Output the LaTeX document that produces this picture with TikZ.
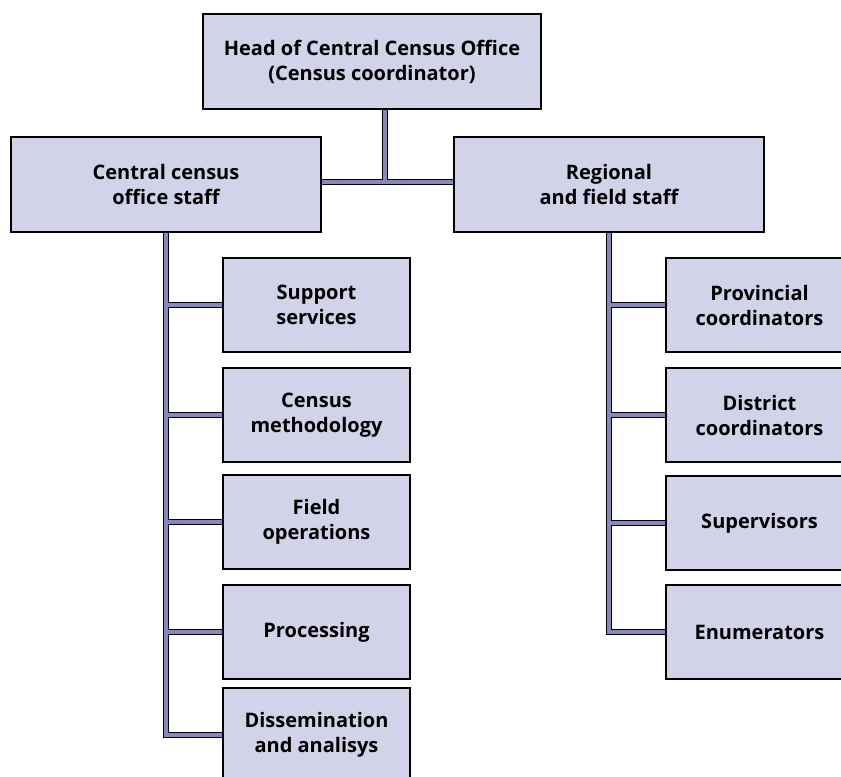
\documentclass[tikz,border=0pt]{standalone}
\usepackage{fontspec}
\setmainfont{Open Sans}
\usetikzlibrary{backgrounds}
\definecolor{boxfill}{RGB}{210,210,233}
\definecolor{pipefill}{RGB}{136,136,192}
\tikzset{
        box/.style={align=center, inner sep=0pt, draw=black, line width=1.5pt, fill=boxfill,
                font=\bfseries\fontsize{15}{18.75}\selectfont},
        % Head of office
        box_top/.style={box, minimum width=253.5pt, minimum height=71.25pt},
        % Staff groups
        box_staff/.style={box, minimum width=233pt, minimum height=71.25pt},
        % Units under a staff group
        box_unit/.style={box, minimum width=140.25pt, minimum height=70.5pt},
        % Connecting pipes
        pipe/.style={line cap=butt, line join=miter}
}
\begin{document}
\begin{tikzpicture}[x=0.75pt, y=-0.75pt]
    \useasboundingbox (0,0) rectangle (841,776);
    \clip (0,0) rectangle (841,776);
    \node[box_top] (head) at (372,61.5) {Head of Central Census Office\\(Census coordinator)};
    \node[box_staff] (central) at (166,184.5) {Central census\\office staff};
    \node[box_staff] (regional) at (609,184.5) {Regional\\and field staff};
    % central office units
    \node[box_unit] (support) at (316.5,305) {Support\\services};
    \node[box_unit] (method) at (316.5,415) {Census\\methodology};
    \node[box_unit] (field) at (316.5,522) {Field\\operations};
    \node[box_unit] (process) at (316.5,632) {Processing};
    \node[box_unit] (dissem) at (316.5,735) {Dissemination\\and analisys};
    % regional and field units
    \node[box_unit] (province) at (759.5,305) {Provincial\\coordinators};
    \node[box_unit] (district) at (759.5,415) {District\\coordinators};
    \node[box_unit] (super) at (759.5,523) {Supervisors};
    \node[box_unit] (enum) at (759.5,632) {Enumerators};
    \coordinate (hub) at (385,182);
    \begin{scope}[on background layer]
        \foreach \w/\c in {5.2pt/black, 2.4pt/pipefill} {
            \draw[pipe, line width=\w, draw=\c] (head.south -| hub) -- (hub);
            \draw[pipe, line width=\w, draw=\c] (central.east |- hub) -- (regional.west |- hub);
            \draw[pipe, line width=\w, draw=\c] (central.south) -- (central.south |- dissem.west) -- (dissem.west);
            \foreach \u in {support, method, field, process}
                \draw[pipe, line width=\w, draw=\c] (central.south |- \u.west) -- (\u.west);
            \draw[pipe, line width=\w, draw=\c] (regional.south) -- (regional.south |- enum.west) -- (enum.west);
            \foreach \u in {province, district, super}
                \draw[pipe, line width=\w, draw=\c] (regional.south |- \u.west) -- (\u.west);
        }
    \end{scope}
\end{tikzpicture}
\end{document}
